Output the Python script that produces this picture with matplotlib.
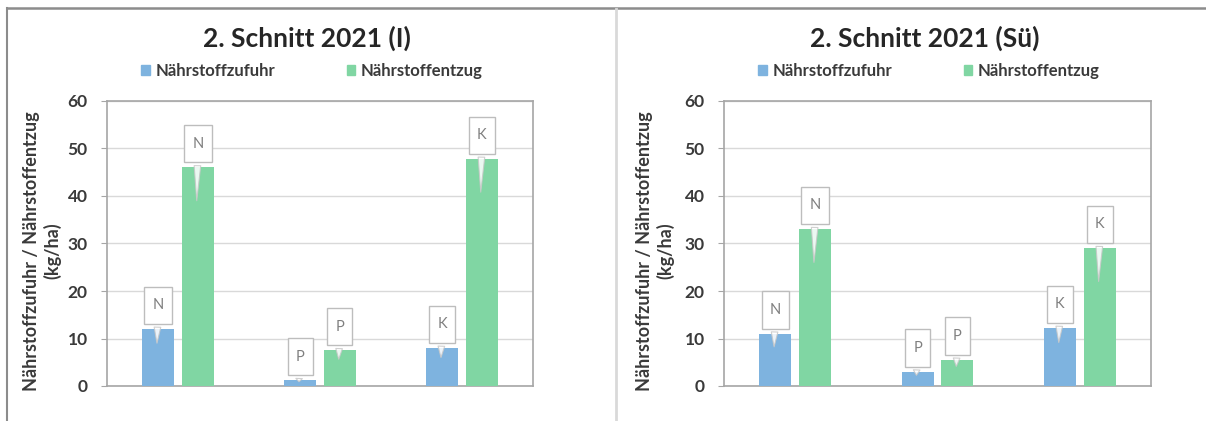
import numpy as np
import matplotlib
matplotlib.use('Agg')
import matplotlib.pyplot as plt
from matplotlib.lines import Line2D
from matplotlib.patches import Patch
from matplotlib.path import Path

plt.rcParams['font.family'] = ['Lato', 'DejaVu Sans']

# Daten
naehrstoffe = ['N', 'P', 'K']
titel = ['2. Schnitt 2021 (I)', '2. Schnitt 2021 (Sü)']
zufuhr_i = [12.0, 1.2, 8.0]
entzug_i = [46.0, 7.5, 47.8]
zufuhr_sue = [11.0, 3.0, 12.2]
entzug_sue = [33.0, 5.5, 29.0]
y_ticks = [0, 10, 20, 30, 40, 50, 60]
legend_labels = ['Nährstoffzufuhr', 'Nährstoffentzug']
ylabel = 'Nährstoffzufuhr / Nährstoffentzug\n(kg/ha)'

BLUE = '#7eb3df'
GREEN = '#80d6a3'
TXT = '#3a3a3a'

W, H = 1206, 421


def tall_box(x0, y0, width, height, mutation_size):
    # Rechteck mit mehr Abstand oben/unten als seitlich (wie Excel-Beschriftung)
    px = 0.55 * mutation_size
    py = 0.8 * mutation_size
    x0, y0 = x0 - px, y0 - py
    x1, y1 = x0 + width + 2 * px, y0 + height + 2 * py
    return Path([(x0, y0), (x1, y0), (x1, y1), (x0, y1), (x0, y0)], closed=True)


def callout(ax, x, v):
    """Excel-artige Datenbeschriftung mit Zeiger."""
    tip = max(v - 7, v * 0.75)
    ax.annotate(naehrstoffe[int(round(x))], xy=(x - 0.008, tip), xytext=(x, v + 5.0),
                ha='center', va='center', fontsize=10.5, color='#7f7f7f',
                bbox=dict(boxstyle=tall_box, fc='white', ec='#bdbdbd', lw=1),
                arrowprops=dict(arrowstyle='wedge,tail_width=0.45,shrink_factor=0.5',
                                fc='white', ec='#c8c8c8', lw=0.8, alpha=0.85,
                                shrinkB=0),
                zorder=5)


def draw_panel(fig, rect, title, zufuhr, entzug, ylab_x, title_x, leg_x):
    ax = fig.add_axes(rect)
    x = np.arange(len(naehrstoffe))
    bw = 0.225
    off = 0.14
    ax.bar(x - off, zufuhr, bw, color=BLUE, zorder=3)
    ax.bar(x + off, entzug, bw, color=GREEN, zorder=3)
    for xi, v in zip(x, zufuhr):
        callout(ax, xi - off, v)
    for xi, v in zip(x, entzug):
        callout(ax, xi + off, v)

    ax.set_xlim(-0.5, 2.5)
    ax.set_ylim(0, 60)
    ax.set_yticks(y_ticks)
    ax.set_xticks([])
    ax.grid(axis='y', color='#d9d9d9', lw=1, zorder=0)
    for s in ax.spines.values():
        s.set_color('#a6a6a6')
        s.set_linewidth(1.2)
    ax.tick_params(axis='y', length=4, color='#a6a6a6', labelsize=12.5, labelcolor=TXT, pad=10)
    for t in ax.get_yticklabels():
        t.set_fontweight('bold')

    fig.text(ylab_x / W, 1 - 251 / H, ylabel, rotation=90, ha='center', va='center',
             multialignment='center', fontsize=13, fontweight='bold', color=TXT,
             linespacing=1.25)
    fig.text(title_x / W, 1 - 38 / H, title, ha='center', va='center',
             fontsize=19, fontweight='bold', color='#262626')

    handles = [Patch(color=BLUE), Patch(color=GREEN)]
    leg = ax.legend(handles, legend_labels, ncol=2, loc='center',
                    bbox_to_anchor=(leg_x / W, 1 - 71 / H), bbox_transform=fig.transFigure,
                    frameon=False, handlelength=0.5, handleheight=0.5, handletextpad=0.35,
                    columnspacing=4.3, prop={'weight': 'bold', 'size': 12})
    for t in leg.get_texts():
        t.set_color(TXT)
    return ax


fig = plt.figure(figsize=(W / 100, H / 100), dpi=100)

draw_panel(fig, [107 / W, 1 - 386 / H, 426 / W, 285 / H], titel[0], zufuhr_i, entzug_i, 42, 307, 312)
draw_panel(fig, [724 / W, 1 - 386 / H, 427 / W, 285 / H], titel[1], zufuhr_sue, entzug_sue, 655, 925, 929)

# Rahmenlinien
fig.add_artist(Line2D([7 / W, 1], [1 - 8 / H, 1 - 8 / H], transform=fig.transFigure,
                      color='#8c8c8c', lw=1.8))
fig.add_artist(Line2D([7 / W, 7 / W], [0, 1 - 8 / H], transform=fig.transFigure,
                      color='#8c8c8c', lw=1.5))
fig.add_artist(Line2D([616 / W, 616 / W], [0, 1 - 9 / H], transform=fig.transFigure,
                      color='#d9d9d9', lw=2))

fig.savefig('out.png', dpi=100)
